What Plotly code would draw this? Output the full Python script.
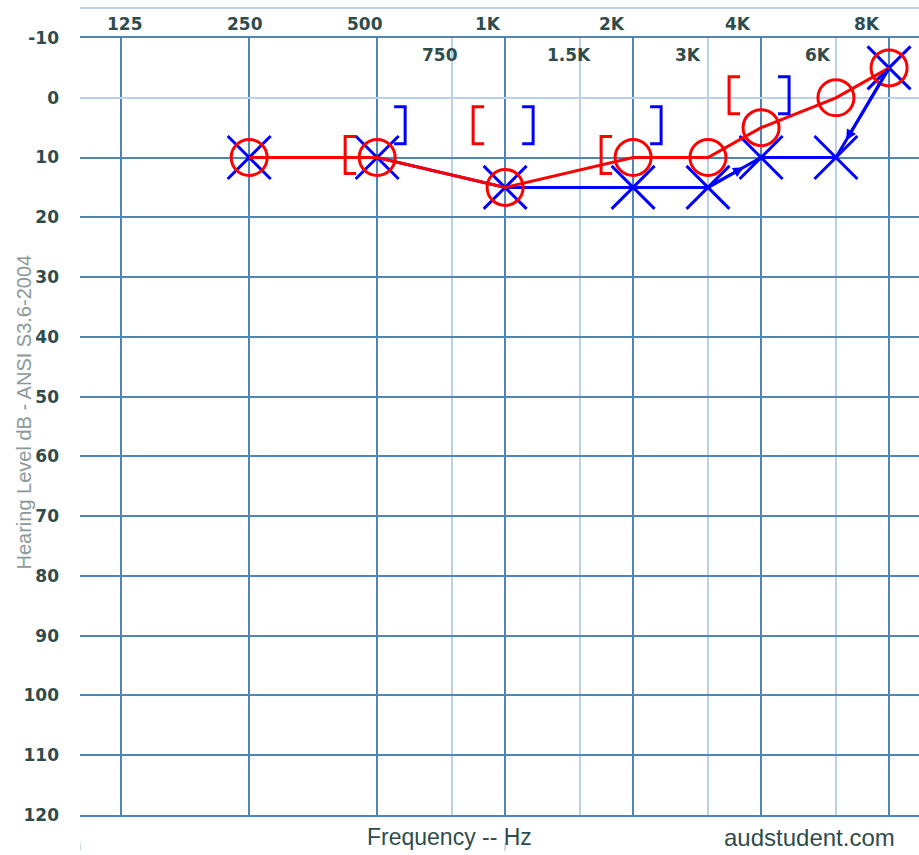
import math
import plotly.graph_objects as go

# ---------------- data ----------------
freqs = [250, 500, 1000, 2000, 3000, 4000, 6000, 8000]
right_air = [10, 10, 15, 10, 10, 5, 0, -5]      # red O
left_air = [10, 10, 15, 15, 15, 10, 10, -5]     # blue X

bone_freqs = [500, 1000, 2000, 4000]
right_bone = [10, 5, 10, 0]                     # red [
left_bone = [5, 5, 5, 0]                        # blue ]

arrow_tail_freqs = [3000, 8000]                 # left-ear arrows
arrow_head_freqs = [4000, 6000]

octave_freqs = [125, 250, 500, 1000, 2000, 4000, 8000]
octave_labels = ["125", "250", "500", "1K", "2K", "4K", "8K"]
mid_freqs = [750, 1500, 3000, 6000]
mid_labels = ["750", "1.5K", "3K", "6K"]
db_ticks = list(range(-10, 130, 10))
db_labels = [str(v) for v in db_ticks]

# ---------------- style ----------------
RED = "#ff0000"
BLUE = "#0000ff"
GRID = "#4f86b3"
GRID_LIGHT = "#bcd1e3"
TXT = "#2f4c4c"
octave_label_shift = [4, -4, -12, -17, -21, -23, -22]
mid_label_shift = [-12, -11, -20, -18]

fig = go.Figure()

fig.add_trace(go.Scatter(
    x=freqs, y=left_air, mode="lines+markers",
    line=dict(color=BLUE, width=3),
    marker=dict(symbol="x-thin-open", size=43, color=BLUE,
                line=dict(color=BLUE, width=3)),
    showlegend=False, hoverinfo="skip"))

fig.add_trace(go.Scatter(
    x=freqs, y=right_air, mode="lines+markers",
    line=dict(color=RED, width=3),
    marker=dict(symbol="circle-open", size=36, color=RED,
                line=dict(color=RED, width=3)),
    showlegend=False, hoverinfo="skip"))

shapes = []
# bone conduction brackets (pixel-sized, anchored at data points)
for f, v in zip(bone_freqs, right_bone):
    shapes.append(dict(type="path", xref="x", yref="y",
                       xsizemode="pixel", ysizemode="pixel",
                       xanchor=f, yanchor=v,
                       path="M-21,21 L-32,21 L-32,-16 L-21,-16",
                       line=dict(color=RED, width=3)))
for f, v in zip(bone_freqs, left_bone):
    shapes.append(dict(type="path", xref="x", yref="y",
                       xsizemode="pixel", ysizemode="pixel",
                       xanchor=f, yanchor=v,
                       path="M17,21 L28,21 L28,-16 L17,-16",
                       line=dict(color=BLUE, width=3)))
# light top border line above the label row
shapes.append(dict(type="line", xref="paper", yref="paper",
                   ysizemode="pixel", yanchor=1, x0=0, x1=1, y0=30, y1=30,
                   line=dict(color=GRID_LIGHT, width=2)))
# small marks below the plot
for f in [100, 1000]:
    shapes.append(dict(type="line", xref="x", yref="paper",
                       ysizemode="pixel", yanchor=0, x0=f, x1=f, y0=-28, y1=-36,
                       line=dict(color=GRID_LIGHT, width=1.5)))

annotations = []
lookup = dict(zip(freqs, left_air))
for f0, f1 in zip(arrow_tail_freqs, arrow_head_freqs):
    annotations.append(dict(
        x=math.log10(f1), y=lookup[f1], ax=math.log10(f0), ay=lookup[f0],
        xref="x", yref="y", axref="x", ayref="y", text="",
        showarrow=True, arrowhead=2, arrowsize=0.7, arrowwidth=3,
        arrowcolor=BLUE, standoff=20))

lab_font = dict(family="DejaVu Sans", size=17, color=TXT, weight="bold")
for f, t, s in zip(octave_freqs, octave_labels, octave_label_shift):
    annotations.append(dict(x=math.log10(f), y=1, xref="x", yref="paper",
                            text=t, showarrow=False, xanchor="center",
                            yanchor="middle", xshift=s, yshift=14,
                            font=lab_font))
for f, t, s in zip(mid_freqs, mid_labels, mid_label_shift):
    annotations.append(dict(x=math.log10(f), y=1, xref="x", yref="paper",
                            text=t, showarrow=False, xanchor="center",
                            yanchor="middle", xshift=s, yshift=-17,
                            font=lab_font))

annotations.append(dict(x=0, y=0.5, xref="paper", yref="paper",
                        text="Hearing Level dB - ANSI S3.6-2004",
                        textangle=-90, showarrow=False, xanchor="center",
                        yanchor="middle", xshift=-57, yshift=14,
                        font=dict(family="Liberation Sans", size=20,
                                  color="#8a9999")))
annotations.append(dict(x=(449 - 80) / 839, y=0, xref="paper", yref="paper",
                        text="Frequency -- Hz", showarrow=False,
                        xanchor="center", yanchor="middle", yshift=-22,
                        font=dict(family="Liberation Sans", size=23, color=TXT)))
annotations.append(dict(x=(809.5 - 80) / 839, y=0, xref="paper", yref="paper",
                        text="audstudent.com", showarrow=False,
                        xanchor="center", yanchor="middle", yshift=-22,
                        font=dict(family="Liberation Sans", size=24, color=TXT)))

fig.update_layout(
    width=919, height=855,
    margin=dict(l=80, r=0, t=38, b=40),
    paper_bgcolor="white", plot_bgcolor="white",
    shapes=shapes, annotations=annotations,
    xaxis=dict(type="log", range=[2, math.log10(9409)],
               tickvals=octave_freqs, showticklabels=False, ticks="",
               showgrid=True, gridcolor=GRID, gridwidth=2,
               minor=dict(tickvals=mid_freqs, showgrid=True,
                          gridcolor=GRID_LIGHT, gridwidth=2, ticks=""),
               showline=True, mirror=True, linecolor=GRID, linewidth=2,
               zeroline=False, fixedrange=True),
    yaxis=dict(range=[120, -10], tickvals=db_ticks, ticktext=db_labels,
               ticks="", ticklabelstandoff=20,
               tickfont=lab_font,
               showgrid=True, gridcolor=GRID, gridwidth=2,
               zeroline=True, zerolinecolor=GRID_LIGHT, zerolinewidth=2,
               showline=False, fixedrange=True),
)

fig.write_html("out.html",
               config={"displayModeBar": False, "staticPlot": True},
               post_script="document.body.style.margin='0';"
                           "document.body.style.overflow='hidden';")
